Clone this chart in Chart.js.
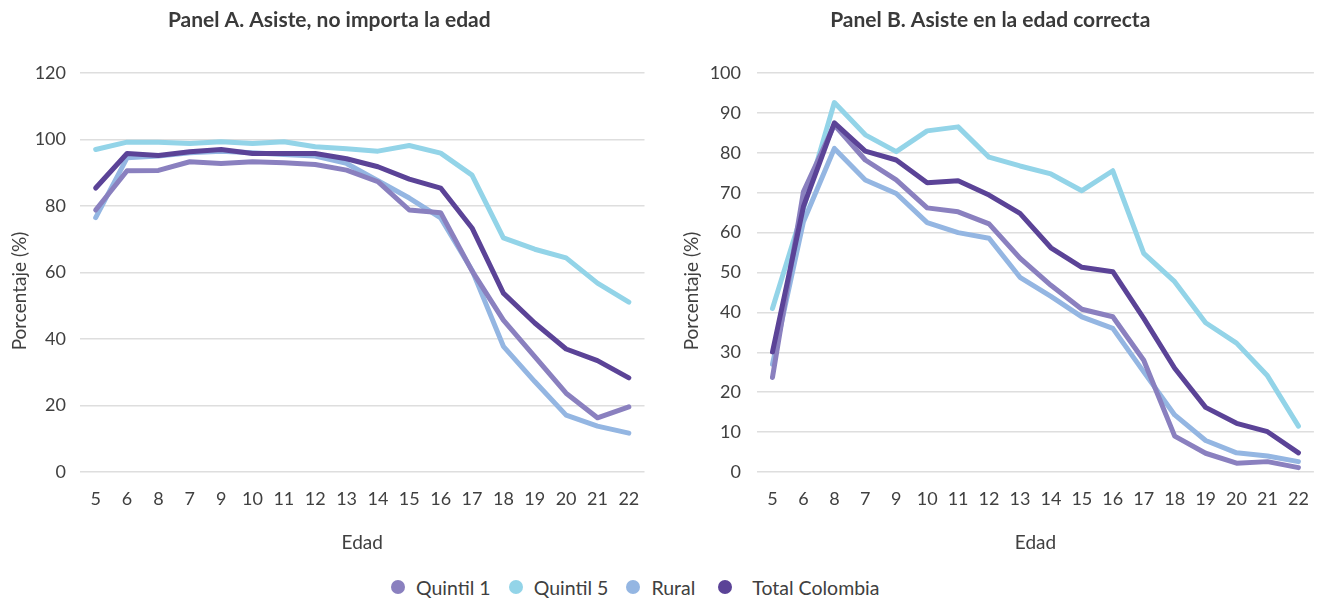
<!DOCTYPE html>
<html>
<head>
<meta charset="utf-8">
<script src="https://cdn.jsdelivr.net/npm/chart.js@4.4.1/dist/chart.umd.min.js"></script>
<style>
  html, body { margin: 0; padding: 0; background: #ffffff; }
  body { width: 1318px; height: 599px; position: relative; overflow: hidden; font-family: Lato, sans-serif; }
  .panel { position: absolute; top: 0; height: 565px; }
  #wrapA { left: 0; width: 660px; }
  #wrapB { left: 660px; width: 665px; }
  #legend { position: absolute; left: 391px; top: 575px; height: 24px; display: flex; justify-content: flex-start; align-items: center; font-size: 19.5px; color: #404040; white-space: nowrap; }
  .item { display: flex; align-items: center; margin-right: 18px; }
  .item:last-child { margin-left: 5px; }
  .item:last-child .dot { margin-right: 20px; }
  .dot { width: 14px; height: 14px; border-radius: 50%; margin-right: 11px; }
</style>
</head>
<body>
<div class="panel" id="wrapA"><canvas id="chartA"></canvas></div>
<div class="panel" id="wrapB"><canvas id="chartB"></canvas></div>
<div id="legend"></div>
<script>
const edad = ['5','6','8','7','9','10','11','12','13','14','15','16','17','18','19','20','21','22'];

const seriesNames = ['Quintil 1', 'Quintil 5', 'Rural', 'Total Colombia'];
const seriesColors = ['#8A80BF', '#93D4E8', '#94B6E2', '#5B4397'];

// Panel A. Asiste, no importa la edad
const aQuintil1 = [78.8, 90.6, 90.7, 93.3, 92.8, 93.3, 93.0, 92.5, 90.8, 87.3, 78.8, 78.0, 60.5, 45.7, 34.7, 23.7, 16.3, 19.6];
const aQuintil5 = [97.0, 99.2, 99.2, 98.8, 99.3, 98.8, 99.3, 97.8, 97.2, 96.5, 98.2, 95.9, 89.3, 70.4, 67.0, 64.4, 56.8, 51.1];
const aRural    = [76.5, 94.5, 95.0, 96.0, 96.5, 96.0, 95.5, 95.0, 92.8, 87.6, 82.4, 76.4, 60.7, 37.8, 27.2, 17.1, 13.8, 11.7];
const aTotal    = [85.4, 95.8, 95.2, 96.3, 97.0, 95.8, 95.8, 95.8, 94.2, 91.8, 88.1, 85.4, 73.4, 53.8, 44.8, 37.0, 33.5, 28.3];

// Panel B. Asiste en la edad correcta
const bQuintil1 = [23.7, 70.2, 87.0, 78.2, 73.2, 66.2, 65.2, 62.2, 53.6, 46.8, 40.8, 38.9, 28.0, 9.0, 4.7, 2.2, 2.6, 1.1];
const bQuintil5 = [41.0, 66.0, 92.6, 84.5, 80.3, 85.5, 86.5, 78.9, 76.7, 74.7, 70.5, 75.5, 54.8, 47.7, 37.4, 32.3, 24.1, 11.5];
const bRural    = [27.0, 62.7, 81.1, 73.2, 69.8, 62.5, 60.0, 58.6, 48.8, 44.0, 38.9, 36.0, 25.1, 14.3, 7.9, 4.8, 4.0, 2.6];
const bTotal    = [30.1, 66.5, 87.5, 80.4, 78.2, 72.5, 73.0, 69.4, 64.8, 56.2, 51.3, 50.2, 38.5, 26.0, 16.2, 12.2, 10.1, 4.8];

const titleA = 'Panel A. Asiste, no importa la edad';
const titleB = 'Panel B. Asiste en la edad correcta';
const xTitle = 'Edad';
const yTitle = 'Porcentaje (%)';

const textColor = '#404040';
const gridColor = '#dedede';
const drawOrder = [1, 3, 2, 0];

function makeDatasets(values) {
  return values.map((v, i) => ({
    label: seriesNames[i],
    data: v,
    borderColor: seriesColors[i],
    backgroundColor: seriesColors[i],
    borderWidth: 5,
    pointRadius: 0,
    pointHoverRadius: 0,
    tension: 0,
    fill: false,
    borderCapStyle: 'round',
    borderJoinStyle: 'round',
    order: drawOrder[i]
  }));
}

// draws the y-axis title centred on the whole panel height (as in the source figure)
const yTitlePlugin = {
  id: 'yTitleFull',
  afterDraw(chart, args, opts) {
    const ctx = chart.ctx;
    ctx.save();
    ctx.translate(opts.x, opts.y);
    ctx.rotate(-Math.PI / 2);
    ctx.font = '19px Lato';
    ctx.fillStyle = textColor;
    ctx.textAlign = 'center';
    ctx.textBaseline = 'middle';
    ctx.fillText(yTitle, 0, 0);
    ctx.restore();
  }
};

function makeChart(id, title, values, yMax, yStep, leftPad, yWidth, yTickPad, yTitleX, rightPad) {
  return new Chart(document.getElementById(id), {
    type: 'line',
    data: { labels: edad, datasets: makeDatasets(values) },
    plugins: [yTitlePlugin],
    options: {
      responsive: true,
      maintainAspectRatio: false,
      animation: false,
      layout: { padding: { left: leftPad, right: rightPad, top: 0, bottom: 0 } },
      plugins: {
        legend: { display: false },
        tooltip: { enabled: false },
        yTitleFull: { x: yTitleX, y: 291 },
        title: {
          display: true,
          text: title,
          color: '#3a3a3a',
          font: { family: 'Lato', size: 21, weight: 'bold', lineHeight: 1.2 },
          padding: { top: 7.5, bottom: 40.3 }
        }
      },
      scales: {
        x: {
          type: 'category',
          offset: true,
          grid: { display: false, drawTicks: false },
          border: { display: false },
          ticks: { color: textColor, font: { family: 'Lato', size: 18 }, padding: 16, maxRotation: 0, autoSkip: false },
          title: { display: true, text: xTitle, color: textColor, font: { family: 'Lato', size: 19, lineHeight: 1.2 }, padding: { top: 0, bottom: 11 } },
          afterFit: (s) => { s.height = 93; }
        },
        y: {
          min: 0,
          max: yMax,
          grid: { color: gridColor, lineWidth: 1.5, drawTicks: false },
          border: { display: false },
          ticks: { stepSize: yStep, color: textColor, font: { family: 'Lato', size: 18 }, padding: yTickPad },
          title: { display: false },
          afterFit: (s) => { s.width = yWidth; }
        }
      }
    }
  });
}

makeChart('chartA', titleA, [aQuintil1, aQuintil5, aRural, aTotal], 120, 20, 14, 66, 14, 20, 15.5);
makeChart('chartB', titleB, [bQuintil1, bQuintil5, bRural, bTotal], 100, 10, 0, 97, 16, 32, 4.5);

const legend = document.getElementById('legend');
seriesNames.forEach((name, i) => {
  const item = document.createElement('div');
  item.className = 'item';
  const dot = document.createElement('span');
  dot.className = 'dot';
  dot.style.background = seriesColors[i];
  const txt = document.createElement('span');
  txt.textContent = name;
  item.appendChild(dot);
  item.appendChild(txt);
  legend.appendChild(item);
});
</script>
</body>
</html>
